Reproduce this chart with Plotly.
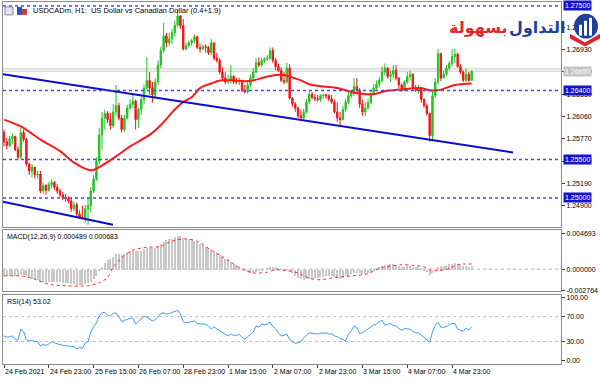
import plotly.graph_objects as go

# ---------------- data ----------------
closes = [
1.2573, 1.2568, 1.2577, 1.2580, 1.2563, 1.2553, 1.2585, 1.2576, 1.2544, 1.2535,
1.2540, 1.2530, 1.2531, 1.2509, 1.2516, 1.2510, 1.2517, 1.2520, 1.2514, 1.2509,
1.2504, 1.2501, 1.2499, 1.2496, 1.2486, 1.2491, 1.2479, 1.2475, 1.2474, 1.2486,
1.2490, 1.2509, 1.2525, 1.2548, 1.2582, 1.2604, 1.2610, 1.2602, 1.2594, 1.2612,
1.2620, 1.2604, 1.2589, 1.2604, 1.2617, 1.2622, 1.2626, 1.2602, 1.2615, 1.2628,
1.2643, 1.2653, 1.2643, 1.2634, 1.2651, 1.2673, 1.2692, 1.2711, 1.2702, 1.2707,
1.2715, 1.2725, 1.2737, 1.2724, 1.2694, 1.2698, 1.2702, 1.2705, 1.2710, 1.2696,
1.2694, 1.2697, 1.2696, 1.2689, 1.2702, 1.2682, 1.2679, 1.2664, 1.2656, 1.2651,
1.2653, 1.2658, 1.2651, 1.2651, 1.2653, 1.2640, 1.2638, 1.2647, 1.2656, 1.2664,
1.2676, 1.2673, 1.2679, 1.2681, 1.2682, 1.2692, 1.2679, 1.2671, 1.2666, 1.2653,
1.2651, 1.2669, 1.2630, 1.2622, 1.2617, 1.2607, 1.2604, 1.2612, 1.2625, 1.2635,
1.2631, 1.2629, 1.2628, 1.2633, 1.2634, 1.2633, 1.2629, 1.2625, 1.2612, 1.2604,
1.2602, 1.2615, 1.2625, 1.2633, 1.2636, 1.2645, 1.2640, 1.2622, 1.2612, 1.2617,
1.2624, 1.2635, 1.2643, 1.2648, 1.2653, 1.2664, 1.2669, 1.2658, 1.2661, 1.2666,
1.2656, 1.2647, 1.2640, 1.2651, 1.2658, 1.2661, 1.2643, 1.2640, 1.2642, 1.2628,
1.2620, 1.2610, 1.2581, 1.2633, 1.2651, 1.2688, 1.2656, 1.2661, 1.2669, 1.2675,
1.2684, 1.2687, 1.2671, 1.2664, 1.2653, 1.2661, 1.2653, 1.2665]

highs = [
1.2589, 1.2578, 1.2581, 1.2584, 1.2581, 1.2567, 1.2591, 1.2589, 1.2578, 1.2546,
1.2544, 1.2540, 1.2535, 1.2535, 1.2520, 1.2518, 1.2521, 1.2524, 1.2522, 1.2518,
1.2512, 1.2508, 1.2505, 1.2502, 1.2500, 1.2495, 1.2494, 1.2484, 1.2490, 1.2491,
1.2499, 1.2514, 1.2530, 1.2553, 1.2591, 1.2612, 1.2615, 1.2613, 1.2611, 1.2622,
1.2647, 1.2624, 1.2608, 1.2608, 1.2621, 1.2628, 1.2634, 1.2628, 1.2617, 1.2633,
1.2648, 1.2683, 1.2664, 1.2651, 1.2656, 1.2679, 1.2697, 1.2728, 1.2715, 1.2715,
1.2720, 1.2731, 1.2746, 1.2738, 1.2733, 1.2702, 1.2705, 1.2707, 1.2713, 1.2711,
1.2701, 1.2700, 1.2700, 1.2698, 1.2707, 1.2702, 1.2689, 1.2682, 1.2670, 1.2664,
1.2660, 1.2673, 1.2660, 1.2656, 1.2657, 1.2653, 1.2647, 1.2653, 1.2661, 1.2669,
1.2682, 1.2683, 1.2682, 1.2683, 1.2686, 1.2696, 1.2696, 1.2682, 1.2675, 1.2670,
1.2664, 1.2676, 1.2674, 1.2631, 1.2625, 1.2619, 1.2615, 1.2616, 1.2629, 1.2640,
1.2638, 1.2635, 1.2634, 1.2635, 1.2636, 1.2636, 1.2635, 1.2634, 1.2628, 1.2624,
1.2612, 1.2620, 1.2629, 1.2638, 1.2640, 1.2656, 1.2656, 1.2643, 1.2628, 1.2625,
1.2629, 1.2640, 1.2648, 1.2653, 1.2657, 1.2671, 1.2675, 1.2670, 1.2666, 1.2673,
1.2673, 1.2657, 1.2649, 1.2653, 1.2664, 1.2666, 1.2662, 1.2647, 1.2647, 1.2643,
1.2630, 1.2622, 1.2611, 1.2640, 1.2656, 1.2694, 1.2689, 1.2666, 1.2673, 1.2678,
1.2694, 1.2694, 1.2689, 1.2674, 1.2666, 1.2669, 1.2664, 1.2666]

lows = [
1.2567, 1.2563, 1.2566, 1.2570, 1.2561, 1.2550, 1.2550, 1.2573, 1.2541, 1.2530,
1.2527, 1.2525, 1.2525, 1.2506, 1.2505, 1.2504, 1.2508, 1.2512, 1.2510, 1.2505,
1.2501, 1.2497, 1.2495, 1.2493, 1.2482, 1.2483, 1.2475, 1.2473, 1.2472, 1.2468,
1.2465, 1.2481, 1.2506, 1.2522, 1.2544, 1.2563, 1.2589, 1.2597, 1.2589, 1.2591,
1.2607, 1.2601, 1.2585, 1.2586, 1.2602, 1.2615, 1.2617, 1.2589, 1.2591, 1.2608,
1.2622, 1.2640, 1.2634, 1.2624, 1.2630, 1.2647, 1.2669, 1.2689, 1.2696, 1.2698,
1.2700, 1.2710, 1.2722, 1.2720, 1.2692, 1.2692, 1.2696, 1.2698, 1.2701, 1.2694,
1.2689, 1.2692, 1.2689, 1.2686, 1.2686, 1.2679, 1.2676, 1.2661, 1.2653, 1.2648,
1.2648, 1.2649, 1.2648, 1.2648, 1.2647, 1.2638, 1.2636, 1.2636, 1.2645, 1.2653,
1.2662, 1.2670, 1.2670, 1.2676, 1.2678, 1.2680, 1.2676, 1.2666, 1.2664, 1.2651,
1.2648, 1.2649, 1.2628, 1.2619, 1.2612, 1.2604, 1.2601, 1.2602, 1.2610, 1.2622,
1.2628, 1.2626, 1.2625, 1.2625, 1.2629, 1.2629, 1.2626, 1.2622, 1.2610, 1.2599,
1.2595, 1.2601, 1.2612, 1.2622, 1.2630, 1.2633, 1.2636, 1.2617, 1.2607, 1.2606,
1.2615, 1.2622, 1.2634, 1.2640, 1.2644, 1.2651, 1.2660, 1.2655, 1.2651, 1.2656,
1.2653, 1.2643, 1.2638, 1.2639, 1.2648, 1.2653, 1.2640, 1.2638, 1.2636, 1.2624,
1.2617, 1.2607, 1.2573, 1.2576, 1.2630, 1.2648, 1.2652, 1.2656, 1.2659, 1.2666,
1.2671, 1.2676, 1.2669, 1.2661, 1.2651, 1.2651, 1.2651, 1.2653]

first_open = 1.2585

ma_index = [0, 6, 13, 20, 25, 31, 34, 40, 45, 52, 56, 61, 64, 67, 70, 74, 77, 82, 86,
            89, 93, 97, 100, 103, 106, 109, 114, 119, 124, 127, 132, 136, 141, 149,
            152, 156, 161, 167]
ma_values = [1.2602, 1.2593, 1.2576, 1.2561, 1.2546, 1.2536, 1.2540, 1.2554, 1.2567,
             1.2582, 1.2595, 1.2615, 1.2625, 1.2631, 1.2643, 1.2649, 1.2653, 1.2653,
             1.2652, 1.2653, 1.2657, 1.2660, 1.2660, 1.2657, 1.2653, 1.2648, 1.2645,
             1.2643, 1.2638, 1.2636, 1.2635, 1.2639, 1.2641, 1.2643, 1.2640, 1.2641,
             1.2647, 1.2649]

upper_trend_x = [-0.36, 181.8]
upper_trend_y = [1.2661, 1.2559]
lower_trend_x = [-0.36, 38.9]
lower_trend_y = [1.2495, 1.2465]

level_prices = [1.2750, 1.2640, 1.2550, 1.2500]
bid_price = 1.26650
ask_price = 1.26680
price_ticks = [1.2490, 1.2519, 1.2548, 1.2577, 1.2606, 1.2635, 1.2664, 1.2693, 1.2722]

macd_main = [
-0.0008, -0.0008, -0.0008, -0.0007, -0.0008, -0.0009, -0.0007, -0.0007, -0.0009, -0.0011,
-0.0012, -0.0013, -0.0014, -0.0016, -0.0016, -0.0017, -0.0017, -0.0016, -0.0016, -0.0017,
-0.0017, -0.0018, -0.0018, -0.0018, -0.0019, -0.0019, -0.0020, -0.0020, -0.0020, -0.0019,
-0.0018, -0.0016, -0.0013, -0.0008, -0.0002, 0.0004, 0.0009, 0.0012, 0.0014, 0.0017,
0.0020, 0.0020, 0.0019, 0.0020, 0.0022, 0.0024, 0.0025, 0.0024, 0.0024, 0.0025,
0.0027, 0.0029, 0.0029, 0.0028, 0.0029, 0.0031, 0.0034, 0.0037, 0.0039, 0.0040,
0.0041, 0.0043, 0.0044, 0.0044, 0.0042, 0.0041, 0.0040, 0.0039, 0.0038, 0.0036,
0.0034, 0.0032, 0.0030, 0.0028, 0.0026, 0.0024, 0.0022, 0.0019, 0.0017, 0.0014,
0.0012, 0.0010, 0.0008, 0.0006, 0.0003, 0.0000, -0.0002, -0.0003, -0.0004, -0.0004,
-0.0003, -0.0002, -0.0001, 0.0000, 0.0001, 0.0003, 0.0004, 0.0003, 0.0002, 0.0000,
-0.0001, 0.0000, -0.0002, -0.0005, -0.0008, -0.0011, -0.0013, -0.0014, -0.0013, -0.0012,
-0.0012, -0.0011, -0.0011, -0.0010, -0.0010, -0.0009, -0.0009, -0.0009, -0.0010, -0.0011,
-0.0012, -0.0011, -0.0009, -0.0008, -0.0006, -0.0004, -0.0004, -0.0005, -0.0006, -0.0006,
-0.0005, -0.0003, -0.0001, 0.0001, 0.0003, 0.0005, 0.0006, 0.0006, 0.0007, 0.0007,
0.0006, 0.0005, 0.0004, 0.0004, 0.0005, 0.0005, 0.0004, 0.0003, 0.0003, 0.0001,
-0.0001, -0.0003, -0.0007, -0.0004, 0.0000, 0.0004, 0.0005, 0.0005, 0.0006, 0.0007,
0.0008, 0.0009, 0.0008, 0.0007, 0.0005, 0.0005, 0.0004, 0.000489]

signal_index = [0, 6, 10, 16, 22, 30, 34, 37, 39, 43, 46, 51, 56, 58, 62, 65, 69, 74, 80,
                84, 89, 94, 97, 101, 105, 109, 113, 118, 124, 130, 134, 138, 142, 146,
                150, 152, 155, 159, 162, 167]
signal_values = [-0.0009, -0.0009, -0.0012, -0.0020, -0.0022, -0.0022, -0.0018, -0.0011,
                 0.0003, 0.0018, 0.0025, 0.0029, 0.0030, 0.0034, 0.0039, 0.0040, 0.0037,
                 0.0025, 0.0012, 0.0002, -0.0005, -0.0004, -0.0001, -0.0002, -0.0005,
                 -0.0012, -0.0014, -0.0011, -0.0009, -0.0006, 0.0001, 0.0004, 0.0006,
                 0.0005, 0.0003, -0.0001, -0.0002, 0.0001, 0.0006, 0.000683]
macd_ticks = [0.004693, 0.0, -0.002764]
macd_tick_text = ["0.004693", "0.000000", "-0.002764"]

rsi_values = [
39, 37, 38, 39, 33, 32, 50, 46, 33, 31,
32, 30, 30, 23, 25, 24, 26, 30, 28, 26,
25, 24, 23, 23, 22, 22, 18, 21, 19, 28,
30, 45, 54, 60, 71, 76, 77, 72, 71, 75,
76, 70, 62, 64, 66, 67, 68, 58, 62, 66,
71, 69, 66, 63, 65, 70, 75, 76, 74, 75,
77, 79, 80, 74, 62, 60, 61, 62, 63, 59,
58, 58, 58, 55, 50, 54, 50, 47, 44, 42,
39, 42, 40, 40, 41, 37, 34, 38, 41, 45,
55, 53, 58, 57, 58, 61, 54, 50, 44, 39,
40, 42, 33, 30, 27, 28, 30, 36, 40, 44,
43, 42, 42, 43, 44, 44, 42, 42, 39, 38,
35, 33, 31, 42, 47, 55, 52, 43, 44, 47,
50, 54, 57, 58, 62, 64, 56, 58, 59, 56,
55, 51, 48, 51, 51, 50, 46, 44, 44, 40,
36, 33, 29, 45, 56, 61, 53, 53, 54, 57,
59, 59, 50, 48, 47, 51, 49, 53.02]
rsi_ticks = [100, 70, 30, 0]
rsi_tick_text = ["100.00", "70.00", "30.00", "0.00"]
rsi_levels = [70, 30]

tick_index = [0, 16, 32, 48, 64, 80, 96, 112, 128, 144, 160]
tick_labels = ["24 Feb 2021", "24 Feb 23:00", "25 Feb 15:00", "26 Feb 07:00",
               "28 Feb 23:00", "1 Mar 15:00", "2 Mar 07:00", "2 Mar 23:00",
               "3 Mar 15:00", "4 Mar 07:00", "4 Mar 23:00"]

# ---------------- build ----------------
idx = list(range(len(closes)))
opens = [first_open] + closes[:-1]

W, H = 600, 384
PL, PR = 3, 561


def fx(px):
    return (px - PL) / (PR - PL)


def fy(py):
    return 1 - py / H


FONT = "Liberation Sans"
fig = go.Figure()

fig.add_trace(go.Candlestick(
    x=idx, open=opens, high=highs, low=lows, close=closes,
    increasing=dict(line=dict(color="#22c422", width=1), fillcolor="#22c422"),
    decreasing=dict(line=dict(color="#f01414", width=1), fillcolor="#f01414"),
    whiskerwidth=0, hoverinfo="skip", xaxis="x", yaxis="y"))
fig.add_trace(go.Scatter(x=ma_index, y=ma_values, mode="lines", hoverinfo="skip",
                         line=dict(color="#ff1a1a", width=2, shape="spline", smoothing=0.8),
                         xaxis="x", yaxis="y"))
fig.add_trace(go.Scatter(x=upper_trend_x, y=upper_trend_y, mode="lines", hoverinfo="skip",
                         line=dict(color="#0c0cc8", width=2), xaxis="x", yaxis="y"))
fig.add_trace(go.Scatter(x=lower_trend_x, y=lower_trend_y, mode="lines", hoverinfo="skip",
                         line=dict(color="#0c0cc8", width=2), xaxis="x", yaxis="y"))

fig.add_trace(go.Bar(x=idx, y=macd_main, width=0.4, marker=dict(color="#c8c8c8", line=dict(width=0)),
                     hoverinfo="skip", xaxis="x2", yaxis="y2"))
fig.add_trace(go.Scatter(x=signal_index, y=signal_values, mode="lines", hoverinfo="skip",
                         line=dict(color="#ff2a2a", width=1, dash="dot", shape="spline", smoothing=0.8),
                         xaxis="x2", yaxis="y2"))

fig.add_trace(go.Scatter(x=idx, y=rsi_values, mode="lines", hoverinfo="skip",
                         line=dict(color="#3d9df5", width=1), xaxis="x3", yaxis="y3"))

xrange = [-0.36, 198.9]
frame = "#8c8c8c"
xcommon = dict(range=xrange, showgrid=False, zeroline=False, showline=True, mirror=True,
               linecolor=frame, linewidth=1, fixedrange=True)
ycommon = dict(showgrid=False, zeroline=False, showline=True, mirror=True, linecolor=frame,
               linewidth=1, side="right", ticks="outside", ticklen=3, tickcolor="#404040",
               tickfont=dict(family=FONT, size=7, color="#000000"), fixedrange=True)

fig.update_layout(
    width=W, height=H, margin=dict(l=PL, r=W - PR, t=0, b=0),
    paper_bgcolor="white", plot_bgcolor="white", showlegend=False,
    font=dict(family=FONT, size=7, color="#000000"),
    bargap=0,
    xaxis=dict(xcommon, domain=[0, 1], anchor="y", showticklabels=False, ticks="",
               rangeslider=dict(visible=False)),
    xaxis2=dict(xcommon, domain=[0, 1], anchor="y2", showticklabels=False, ticks=""),
    xaxis3=dict(xcommon, domain=[0, 1], anchor="y3", showticklabels=False, ticks="outside",
                ticklen=3, tickcolor="#404040", tickvals=tick_index),
    yaxis=dict(ycommon, domain=[fy(228), fy(1)], anchor="x", range=[1.24626, 1.27551],
               tickvals=price_ticks, ticktext=[f"{v:.5f}" for v in price_ticks]),
    yaxis2=dict(ycommon, domain=[fy(293), fy(231)], anchor="x2", range=[-0.00288, 0.00523],
                tickvals=macd_ticks, ticktext=macd_tick_text),
    yaxis3=dict(ycommon, domain=[fy(367), fy(297)], anchor="x3", range=[-6.3, 104.8],
                tickvals=rsi_ticks, ticktext=rsi_tick_text),
)

shapes = []
for lv in level_prices:
    shapes.append(dict(type="line", xref="x domain", yref="y", x0=0, x1=1, y0=lv, y1=lv,
                       line=dict(color="#4646f0", width=1.5, dash="dot"), layer="above"))
for lv in (bid_price, ask_price):
    shapes.append(dict(type="line", xref="x domain", yref="y", x0=0, x1=1, y0=lv, y1=lv,
                       line=dict(color="#c8c8c8", width=1), layer="below"))
shapes.append(dict(type="line", xref="x2 domain", yref="y2", x0=0, x1=1, y0=0, y1=0,
                   line=dict(color="#b4b4b4", width=1, dash="dot"), layer="below"))
for lv in rsi_levels:
    shapes.append(dict(type="line", xref="x3 domain", yref="y3", x0=0, x1=1, y0=lv, y1=lv,
                       line=dict(color="#c0c0c0", width=1, dash="dot"), layer="below"))

# logo shield (decoration)
shapes.append(dict(type="circle", xref="paper", yref="paper",
                   x0=fx(574), x1=fx(598), y0=fy(38), y1=fy(13),
                   fillcolor="#1f3f9a", line=dict(width=0)))
for bx0, bx1, by0 in ((579, 582, 24), (584, 587, 20), (589, 592, 17)):
    shapes.append(dict(type="rect", xref="paper", yref="paper",
                       x0=fx(bx0), x1=fx(bx1), y0=fy(35), y1=fy(by0),
                       fillcolor="white", line=dict(width=0)))
chev = [(570, 33), (585, 42), (600, 33), (600, 38), (585, 46), (570, 38)]
path = "M " + " L ".join(f"{fx(a):.5f},{fy(b):.5f}" for a, b in chev) + " Z"
shapes.append(dict(type="path", xref="paper", yref="paper", path=path,
                   fillcolor="#d9262c", line=dict(width=0)))
# toolbar icons near title
shapes.append(dict(type="rect", xref="paper", yref="paper", x0=fx(5), x1=fx(13),
                   y0=fy(14), y1=fy(6), fillcolor="#e4e4ee", line=dict(color="#8888a8", width=1)))
shapes.append(dict(type="rect", xref="paper", yref="paper", x0=fx(17), x1=fx(22),
                   y0=fy(14), y1=fy(6), fillcolor="#2c4fc0", line=dict(width=0)))
shapes.append(dict(type="rect", xref="paper", yref="paper", x0=fx(22), x1=fx(27),
                   y0=fy(14), y1=fy(8), fillcolor="#d03a3a", line=dict(width=0)))
fig.update_layout(shapes=shapes)

ann = []
for lv in level_prices:
    ann.append(dict(xref="paper", yref="y", x=fx(563), y=lv, text=f"{lv:.5f}",
                    xanchor="left", yanchor="middle", showarrow=False, bgcolor="#1414c8",
                    borderpad=1, font=dict(family=FONT, size=7, color="white")))
ann.append(dict(xref="paper", yref="y", x=fx(563), y=bid_price, text=f"{bid_price:.5f}",
                xanchor="left", yanchor="middle", showarrow=False, bgcolor="#c4c4c4",
                borderpad=1, font=dict(family=FONT, size=7, color="white")))
ann.append(dict(xref="paper", yref="paper", x=fx(31), y=fy(10),
                text="USDCADm, H1:  US Dollar vs Canadian Dollar (0.4+1.9)",
                xanchor="left", yanchor="middle", showarrow=False,
                font=dict(family=FONT, size=7.5, color="#000000")))
ann.append(dict(xref="paper", yref="paper", x=fx(5), y=fy(238),
                text=f"MACD(12,26,9) {macd_main[-1]:.6f} {signal_values[-1]:.6f}",
                xanchor="left", yanchor="middle", showarrow=False,
                font=dict(family=FONT, size=7, color="#000000")))
ann.append(dict(xref="paper", yref="paper", x=fx(5), y=fy(304),
                text=f"RSI(14) {rsi_values[-1]:.2f}",
                xanchor="left", yanchor="middle", showarrow=False,
                font=dict(family=FONT, size=7, color="#000000")))
for ti, tl in zip(tick_index, tick_labels):
    ann.append(dict(xref="x3", yref="paper", x=ti, y=fy(374), text=tl, xanchor="left",
                    yanchor="middle", showarrow=False, xshift=-1,
                    font=dict(family=FONT, size=7, color="#000000")))
# logo text
ann.append(dict(xref="paper", yref="paper", x=fx(510), y=fy(27), text="<b>بسهولة</b>",
                xanchor="right", yanchor="middle", showarrow=False,
                font=dict(family="DejaVu Sans", size=16, color="#e3262b")))
ann.append(dict(xref="paper", yref="paper", x=fx(568), y=fy(27), text="<b>التداول</b>",
                xanchor="right", yanchor="middle", showarrow=False,
                font=dict(family="DejaVu Sans", size=16, color="#1f3f9a")))
fig.update_layout(annotations=ann)

fig.write_html("out.html", config={"displayModeBar": False},
               post_script="document.body.style.margin='0';document.body.style.padding='0';")
